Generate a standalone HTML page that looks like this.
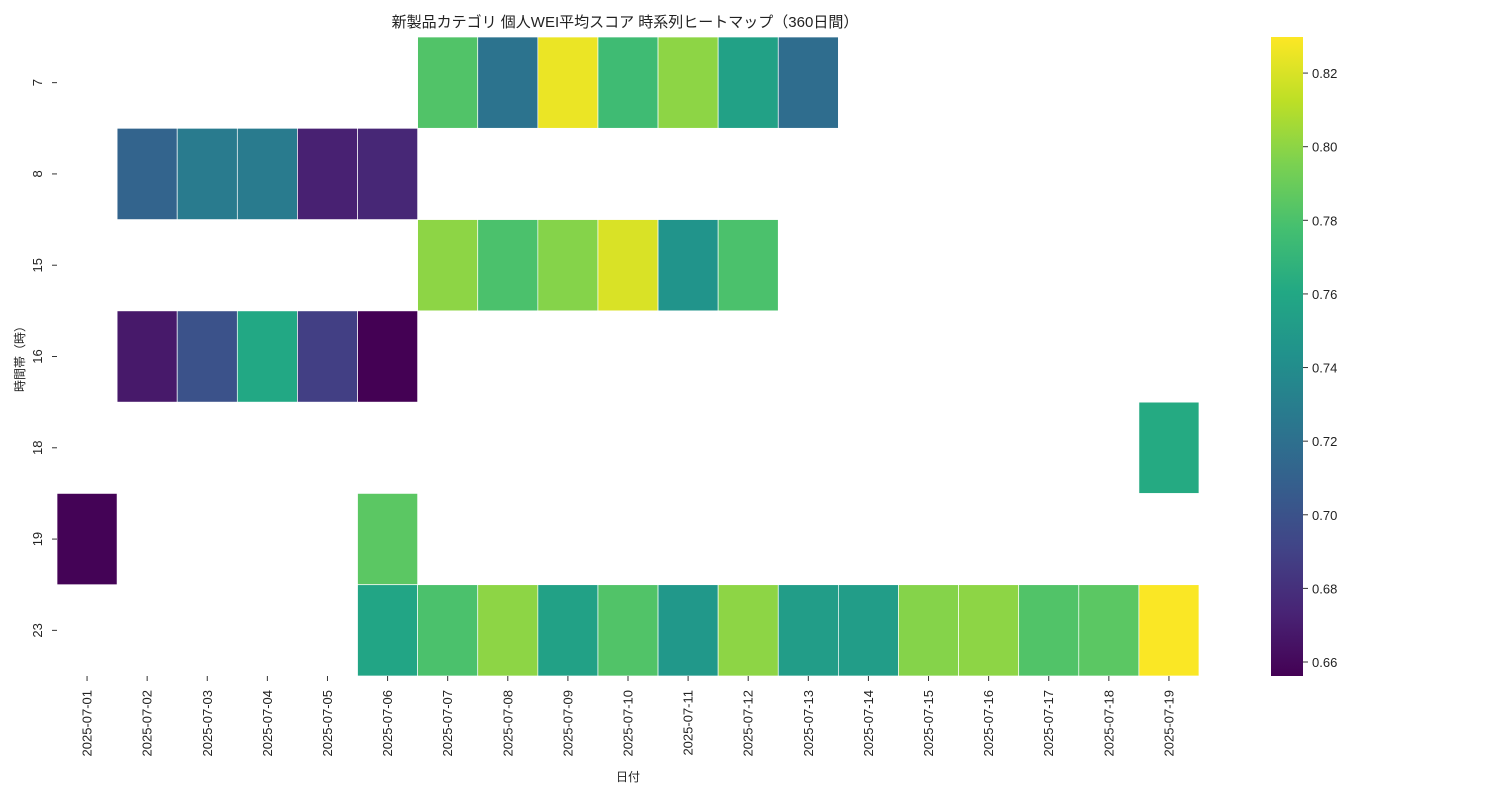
<!DOCTYPE html>
<html><head><meta charset="utf-8"><style>
body{margin:0;background:#fff;}
text{font-family:"Liberation Sans","Noto Sans CJK JP",sans-serif;fill:#222;}
</style></head><body>
<svg id="chart" width="1500" height="800">
<defs><linearGradient id="cb" x1="0" y1="1" x2="0" y2="0"></linearGradient></defs>
<text x="625" y="27" text-anchor="middle" font-size="15">新製品カテゴリ 個人WEI平均スコア 時系列ヒートマップ（360日間）</text>
<text transform="translate(24,356) rotate(-90)" text-anchor="middle" font-size="12">時間帯（時）</text>
<text x="628" y="781" text-anchor="middle" font-size="12">日付</text>
<g id="cells"></g><g id="xticks"></g><g id="yticks"></g>
<rect x="1271" y="37" width="32" height="639" fill="url(#cb)"/>
<g id="cbticks"></g>
</svg>
<script>
const dates=["2025-07-01","2025-07-02","2025-07-03","2025-07-04","2025-07-05","2025-07-06","2025-07-07","2025-07-08","2025-07-09","2025-07-10","2025-07-11","2025-07-12","2025-07-13","2025-07-14","2025-07-15","2025-07-16","2025-07-17","2025-07-18","2025-07-19"];
const hours=["7","8","15","16","18","19","23"];
const _=null;
const row7=[_,_,_,_,_,_,0.782,0.722,0.825,0.775,0.800,0.755,0.718,_,_,_,_,_,_];
const row8=[_,0.712,0.728,0.728,0.672,0.675,_,_,_,_,_,_,_,_,_,_,_,_,_];
const row15=[_,_,_,_,_,_,0.800,0.780,0.798,0.820,0.745,0.780,_,_,_,_,_,_,_];
const row16=[_,0.668,0.700,0.760,0.688,0.656,_,_,_,_,_,_,_,_,_,_,_,_,_];
const row18=[_,_,_,_,_,_,_,_,_,_,_,_,_,_,_,_,_,_,0.762];
const row19=[0.657,_,_,_,_,0.785,_,_,_,_,_,_,_,_,_,_,_,_,_];
const row23=[_,_,_,_,_,0.758,0.780,0.800,0.755,0.782,0.748,0.800,0.752,0.752,0.798,0.800,0.782,0.785,0.829];
const cbTicks=[0.66,0.68,0.70,0.72,0.74,0.76,0.78,0.80,0.82];
const values=[row7,row8,row15,row16,row18,row19,row23];
const vmin=0.6562,vmax=0.8298;
const stops=["#440154","#482475","#414487","#355f8d","#2a788e","#21918c","#22a884","#44bf70","#7ad151","#bddf26","#fde725"];
function hex(h){return [1,3,5].map(i=>parseInt(h.substr(i,2),16));}
function viridis(t){t=Math.max(0,Math.min(1,t));const p=t*10,i=Math.min(9,Math.floor(p)),f=p-i;const a=hex(stops[i]),b=hex(stops[i+1]);return "rgb("+a.map((v,k)=>Math.round(v+(b[k]-v)*f)).join(",")+")";}
const X0=57,X1=1199,Y0=37,Y1=676;
const cw=(X1-X0)/dates.length,ch=(Y1-Y0)/hours.length;
const xs=i=>X0+i*cw, ys=j=>Y0+j*ch;
const cbY=v=>Y1-(v-vmin)/(vmax-vmin)*(Y1-Y0);
const NS="http://www.w3.org/2000/svg";
const cells=document.getElementById("cells");
values.forEach((row,j)=>row.forEach((v,i)=>{
 if(v===null)return;
 const r=document.createElementNS(NS,"rect");
 
 
 r.setAttribute("x",xs(i));r.setAttribute("y",ys(j));r.setAttribute("width",cw);r.setAttribute("height",ch);
 r.setAttribute("fill",viridis((v-vmin)/(vmax-vmin)));r.setAttribute("stroke","#fff");r.setAttribute("stroke-width","0.7");
 cells.appendChild(r);
}));
const xt=document.getElementById("xticks");
dates.forEach((d,i)=>{
 const cx=xs(i)+cw/2;
 const l=document.createElementNS(NS,"line");
 
 
 l.setAttribute("x1",cx);l.setAttribute("x2",cx);l.setAttribute("y1",Y1);l.setAttribute("y2",Y1+5);l.setAttribute("stroke","#333");
 xt.appendChild(l);
 const t=document.createElementNS(NS,"text");
 
 
 t.setAttribute("transform","translate("+(cx+4.5)+","+(Y1+14)+") rotate(-90)");
 t.setAttribute("text-anchor","end");t.setAttribute("font-size","13");t.textContent=d;xt.appendChild(t);
});
const yt=document.getElementById("yticks");
hours.forEach((h,j)=>{
 const cy=ys(j)+ch/2;
 const l=document.createElementNS(NS,"line");
 
 
 l.setAttribute("x1",X0-5);l.setAttribute("x2",X0);l.setAttribute("y1",cy);l.setAttribute("y2",cy);l.setAttribute("stroke","#333");
 yt.appendChild(l);
 const t=document.createElementNS(NS,"text");
 
 
 t.setAttribute("transform","translate("+(X0-15)+","+cy+") rotate(-90)");
 t.setAttribute("text-anchor","middle");t.setAttribute("font-size","13");t.textContent=h;yt.appendChild(t);
});
const g=document.getElementById("cb");
stops.forEach((c,i)=>{const s=document.createElementNS(NS,"stop");s.setAttribute("offset",i/10);s.setAttribute("stop-color",c);g.appendChild(s);});
const cbt=document.getElementById("cbticks");
cbTicks.forEach(v=>{
 const y=cbY(v);
 const l=document.createElementNS(NS,"line");
 
 
 l.setAttribute("x1",1303);l.setAttribute("x2",1308);l.setAttribute("y1",y);l.setAttribute("y2",y);l.setAttribute("stroke","#333");
 cbt.appendChild(l);
 const t=document.createElementNS(NS,"text");
 
 
 t.setAttribute("x",1312);t.setAttribute("y",y+5);t.setAttribute("font-size","13");t.textContent=v.toFixed(2);cbt.appendChild(t);
});
</script>
</body></html>
